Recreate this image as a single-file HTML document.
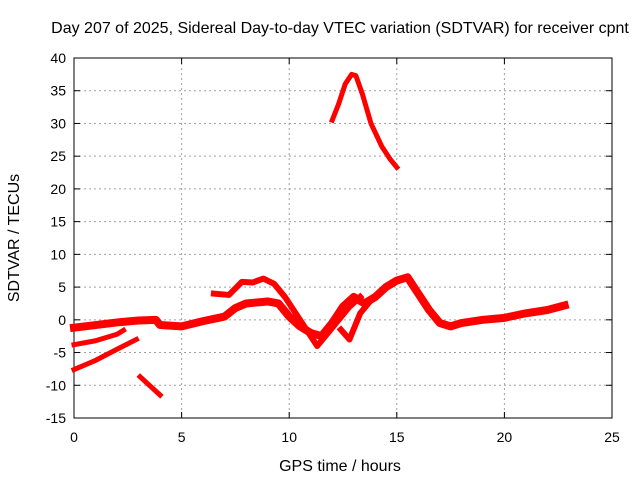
<!DOCTYPE html>
<html><head><meta charset="utf-8"><style>
body{margin:0;background:#fff}
svg text{font-family:"Liberation Sans",sans-serif;font-size:14px;fill:#000}
svg text.big{font-size:16px}
</style></head><body>
<svg id="chart" width="640" height="480" xmlns="http://www.w3.org/2000/svg">
<rect width="640" height="480" fill="#fff"/>
<text class="big" x="340" y="33" text-anchor="middle">Day 207 of 2025, Sidereal Day-to-day VTEC variation (SDTVAR) for receiver cpnt</text>
<g id="grid"></g>
<g id="axes"></g>
<g id="series"></g>
<text class="big" x="340" y="471" text-anchor="middle">GPS time / hours</text>
<text class="big" transform="translate(19,238) rotate(-90)" text-anchor="middle">SDTVAR / TECUs</text>
</svg>
<script>
const xTicks=[0,5,10,15,20,25];
const yTicks=[-15,-10,-5,0,5,10,15,20,25,30,35,40];
const arcHours=[12.0,12.3,12.6,12.9,13.1,13.4,13.8,14.3,14.7,15.0];
const arcValues=[30.5,33,36,37.5,37.3,34.5,30,26.5,24.5,23.3];
const mainHours=[0,1,2,3,3.8,4,5,6,7,7.5,8,9,9.5,10,10.5,11,11.5,12,12.5,13,13.5,14,14.5,15,15.5,16,16.5,17,17.5,18,19,20,21,22,22.8];
const mainValues=[-1.2,-0.8,-0.4,-0.1,0,-0.8,-1,-0.2,0.5,1.8,2.5,2.8,2.5,0.5,-1,-2,-2.5,-0.5,2,3.5,2.5,3.5,5,6,6.5,4,1.5,-0.5,-1,-0.5,0,0.3,1,1.5,2.2];
const upperHours=[6.5,7.2,7.8,8.3,8.8,9.3,9.8,10.3,10.8,11.3,11.8,12.3,12.8,13.3];
const upperValues=[4,3.8,5.8,5.7,6.3,5.5,3.5,1,-1.5,-4,-2,0,2,3.5];
const midHours=[12.4,12.8,13.3,13.8,14.3,14.8];
const midValues=[-1.5,-3,1,3,4.5,5.5];
const lowAHours=[0,1,2,2.3];
const lowAValues=[-3.8,-3.2,-2.2,-1.6];
const lowBHours=[0,1,2,2.9];
const lowBValues=[-7.6,-6.2,-4.5,-3.0];
const lowCHours=[3.07,4.0];
const lowCValues=[-8.7,-11.5];
const X0=74,X1=612,Y0=418,Y1=58;
const sx=h=>X0+(h-0)/25*(X1-X0);
const sy=v=>Y0-(v+15)/55*(Y0-Y1);
const NS="http://www.w3.org/2000/svg";
function mk(tag,attrs,parent){const e=document.createElementNS(NS,tag);for(const k in attrs)e.setAttribute(k,attrs[k]);parent.appendChild(e);return e;}
const grid=document.getElementById('grid'),axes=document.getElementById('axes'),ser=document.getElementById('series');
xTicks.forEach(t=>{const x=sx(t);
 if(t>0&&t<25){const l=mk('line',{x1:x,x2:x,y1:Y1,y2:Y0,stroke:'#a0a0a0','stroke-dasharray':'2,3'},grid);
 
 }
 mk('line',{x1:x,x2:x,y1:Y0,y2:Y0-6,stroke:'#000'},axes);
 mk('line',{x1:x,x2:x,y1:Y1,y2:Y1+6,stroke:'#000'},axes);
 const tx=mk('text',{x:x,y:Y0+24,'text-anchor':'middle'},axes);tx.textContent=t;
 
 
});
yTicks.forEach(t=>{const y=sy(t);
 if(t>-15&&t<40){const l=mk('line',{x1:X0,x2:X1,y1:y,y2:y,stroke:'#a0a0a0','stroke-dasharray':'2,3'},grid);
 
 }
 mk('line',{x1:X0,x2:X0+6,y1:y,y2:y,stroke:'#000'},axes);
 mk('line',{x1:X1,x2:X1-6,y1:y,y2:y,stroke:'#000'},axes);
 const tx=mk('text',{x:X0-8,y:y+5,'text-anchor':'end'},axes);tx.textContent=t;
 
 
});
const frame=mk('rect',{x:X0,y:Y1,width:X1-X0,height:Y0-Y1,fill:'none',stroke:'#000'},axes);


function draw(hs,vs,w,name){
 const pts=hs.map((h,i)=>sx(h)+','+sy(vs[i])).join(' ');
 const p=mk('polyline',{points:pts,fill:'none',stroke:'#f00','stroke-width':w,'stroke-linejoin':'round','stroke-linecap':'square'},ser);
 
 
}
draw(arcHours,arcValues,5,'series-arc');
draw(mainHours,mainValues,8,'series-main');
draw(upperHours,upperValues,6,'series-upper');
draw(midHours,midValues,6,'series-mid');
draw(lowAHours,lowAValues,5,'series-low-a');
draw(lowBHours,lowBValues,5,'series-low-b');
draw(lowCHours,lowCValues,5,'series-low-c');
</script>
</body></html>
